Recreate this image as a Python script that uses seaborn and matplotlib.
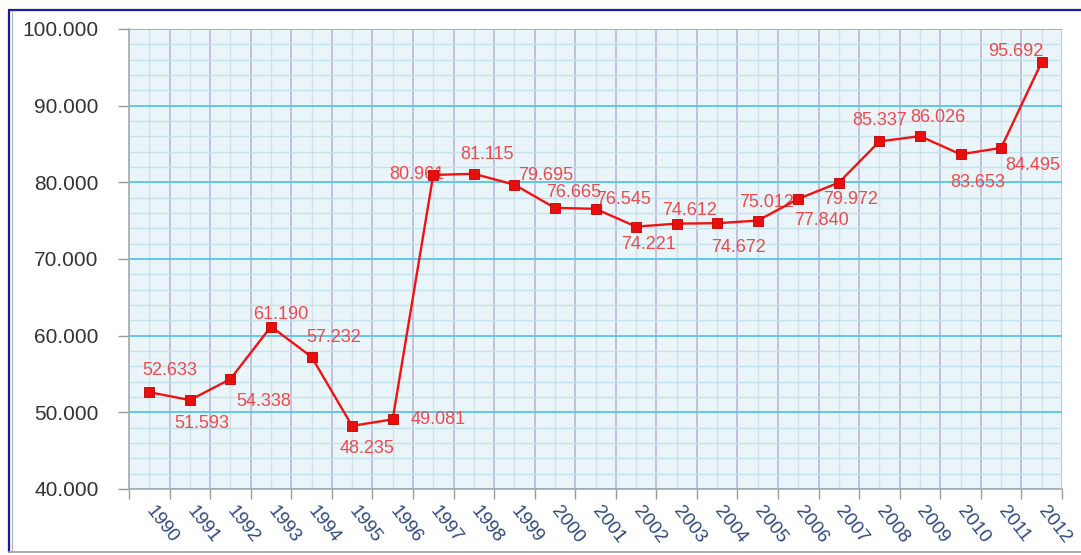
import pandas as pd
import matplotlib.pyplot as plt
import seaborn as sns
from matplotlib.lines import Line2D
from matplotlib.ticker import MultipleLocator, FixedLocator, FuncFormatter

years = [str(y) for y in range(1990, 2013)]
values = [52.633, 51.593, 54.338, 61.190, 57.232, 48.235, 49.081, 80.961,
          81.115, 79.695, 76.665, 76.545, 74.221, 74.612, 74.672, 75.012,
          77.840, 79.972, 85.337, 86.026, 83.653, 84.495, 95.692]
# label offsets from each point, in pixels (dx right, dy down)
label_dx = [21, 12, 33, 10, 22, 15, 46, -16, 13, 31, 19, 28, 12, 13, 21, 9,
            23, 12, 0, 18, 17, 32, -26]
label_dy = [-22, 23, 22, -12, -19, 23, 0, 0, -19, -9, -15, -9, 18, -13, 24,
            -18, 22, 17, -21, -19, 28, 18, -11]

df = pd.DataFrame({'Year': years, 'Value': values})

sns.set_theme(style='white')
plt.rcParams['font.family'] = ['Liberation Sans', 'DejaVu Sans']

fig = plt.figure(figsize=(10.81, 5.55), dpi=100)
ax = fig.add_axes([129 / 1081, 1 - 489 / 555, 933 / 1081, 460 / 555])
ax.set_facecolor('#E9F5F8')

sns.lineplot(x='Year', y='Value', data=df, ax=ax, color='#F21212',
             linewidth=1.7, marker='s', markersize=6.5,
             markerfacecolor='#E80E0E', markeredgecolor='#C00000',
             markeredgewidth=0.6, zorder=5)

ax.set_xlim(-0.5, len(years) - 0.5)
ax.set_ylim(40, 100)

# y axis
ax.yaxis.set_major_locator(MultipleLocator(10))
ax.yaxis.set_minor_locator(MultipleLocator(2))
ax.yaxis.set_major_formatter(FuncFormatter(lambda v, p: f'{v:.3f}'))
ax.tick_params(axis='y', which='major', length=8, width=1, color='#999999',
               labelsize=15, labelcolor='#333333', pad=14, left=True)
ax.tick_params(axis='y', which='minor', length=0)

# x axis: labels at category centres, tick marks at boundaries
ax.xaxis.set_major_locator(FixedLocator(range(len(years))))
ax.xaxis.set_minor_locator(FixedLocator([i - 0.5 for i in range(len(years) + 1)]))
ax.set_xticklabels(years)
ax.tick_params(axis='x', which='major', length=0, labelsize=13.5,
               labelcolor='#2E4780', pad=14)
ax.tick_params(axis='x', which='minor', length=7, width=1, color='#999999',
               bottom=True)
for lab in ax.get_xticklabels():
    lab.set_rotation(-52)
    lab.set_ha('left')
    lab.set_va('center')
    lab.set_rotation_mode('anchor')

# grids
ax.grid(which='major', axis='y', color='#62C6EA', linewidth=1.4)
ax.grid(which='minor', axis='y', color='#C4E2EC', linewidth=1.0)
ax.grid(which='major', axis='x', color='#D6DEE6', linewidth=1.0)
ax.grid(which='minor', axis='x', color='#BDB6DA', linewidth=1.2)
ax.set_axisbelow(True)

for side in ['top', 'right']:
    ax.spines[side].set_visible(False)
ax.spines['left'].set_color('#AAAAAA')
ax.spines['bottom'].set_color('#AAAAAA')
ax.spines['left'].set_linewidth(1.2)
ax.spines['bottom'].set_linewidth(1.2)

ax.set_xlabel('')
ax.set_ylabel('')

# data labels
for i, v in enumerate(values):
    ax.annotate(f'{v:.3f}', (i, v), xytext=(label_dx[i] * 0.72, -label_dy[i] * 0.72),
                textcoords='offset points', ha='center', va='center',
                fontsize=13, color='#EE4A4E', zorder=4)

# outer frame
fig.add_artist(Line2D([9 / 1081, 1], [1 - 10 / 555, 1 - 10 / 555],
                      color='#1A1AA0', linewidth=1.6))
fig.add_artist(Line2D([9 / 1081, 9 / 1081], [1 - 10 / 555, 1 - 552 / 555],
                      color='#1A1AA0', linewidth=1.6))
fig.add_artist(Line2D([11.5 / 1081, 11.5 / 1081], [1 - 11 / 555, 1 - 551 / 555],
                      color='#BBBBBB', linewidth=1.0))
fig.add_artist(Line2D([9 / 1081, 1], [1 - 552 / 555, 1 - 552 / 555],
                      color='#AAAAAA', linewidth=1.4))

fig.savefig('out.png', dpi=100)
